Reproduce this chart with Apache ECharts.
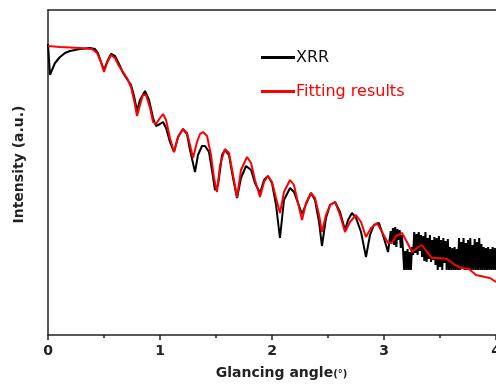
<!DOCTYPE html>
<html>
<head>
<meta charset="utf-8">
<script src="https://cdn.jsdelivr.net/npm/echarts@6/dist/echarts.min.js"></script>
<style>
html,body{margin:0;padding:0;background:#fff;}
#chart{width:496px;height:385px;}
</style>
</head>
<body>
<div id="chart"></div>
<script>
// Glancing angle (deg) and log-intensity (arbitrary units)
const xrrAngle = [0,0.009,0.018,0.036,0.0625,0.107,0.152,0.196,0.286,0.375,0.42,0.446,0.473,0.5,0.527,0.5625,0.598,0.634,0.67,0.705,0.741,0.768,0.795,0.821,0.866,0.902,0.938,0.964,1.0,1.027,1.054,1.089,1.125,1.161,1.205,1.241,1.268,1.3125,1.339,1.375,1.402,1.4375,1.464,1.491,1.518,1.554,1.58,1.616,1.652,1.688,1.723,1.768,1.813,1.848,1.893,1.929,1.964,2.0,2.036,2.071,2.107,2.161,2.196,2.232,2.268,2.304,2.348,2.384,2.42,2.446,2.482,2.518,2.563,2.607,2.652,2.679,2.714,2.75,2.795,2.839,2.875,2.911,2.955,2.991,3.036,
3.05,3.06,3.07,3.08,3.09,3.10,3.11,3.12,3.13,3.14,3.15,3.16,3.17,3.18,3.19,3.20,3.21,3.22,3.23,3.24,3.25,3.26,3.27,3.28,3.29,3.30,3.31,3.32,3.33,3.34,3.35,3.36,3.37,3.38,3.39,3.40,3.41,3.42,3.43,3.44,3.45,3.46,3.47,3.48,3.49,3.50,3.51,3.52,3.53,3.54,3.55,3.56,3.57,3.58,3.59,3.60,3.61,3.62,3.63,3.64,3.65,3.66,3.67,3.68,3.69,3.70,3.71,3.72,3.73,3.74,3.75,3.76,3.77,3.78,3.79,3.80,3.81,3.82,3.83,3.84,3.85,3.86,3.87,3.88,3.89,3.90,3.91,3.92,3.93,3.94,3.95,3.96,3.97,3.98,3.99,4.00];
const xrrIntensity = [291,275,260,265,272,278,282,284,286,287,286,282,273,265,273,281,279,271,262,256,250,239,224,235,244,235,217,209,211,213,207,193,183,198,206,201,185,163,180,189,189,183,165,145,150,180,185,180,157,137,157,169,165,152,142,155,159,152,130,97,135,147,143,132,121,131,142,135,113,89,117,130,133,123,105,115,122,117,103,78,100,110,112,100,83,
95,104,92,107,90,108,88,106,95,105,87,100,85,65,84,65,86,65,83,65,88,80,103,82,101,80,103,84,100,78,99,74,103,73,97,76,100,73,95,75,98,70,97,65,99,68,95,65,97,72,94,65,96,65,88,65,87,65,88,65,86,65,97,65,93,66,97,65,92,65,95,65,97,65,90,65,96,65,93,65,97,65,91,65,88,65,87,65,88,65,86,65,88,65,87,65];
const fitAngle = [0,0.107,0.286,0.393,0.438,0.473,0.5,0.527,0.5625,0.598,0.634,0.67,0.705,0.741,0.768,0.795,0.821,0.848,0.875,0.911,0.938,0.964,1.0,1.027,1.054,1.089,1.125,1.161,1.205,1.241,1.268,1.295,1.33,1.357,1.384,1.42,1.455,1.482,1.509,1.536,1.58,1.616,1.652,1.688,1.723,1.777,1.813,1.848,1.893,1.929,1.964,2.0,2.036,2.071,2.107,2.161,2.196,2.232,2.268,2.304,2.348,2.384,2.42,2.446,2.482,2.518,2.563,2.607,2.652,2.696,2.75,2.795,2.839,2.884,2.938,2.982,3.036,3.071,3.107,3.161,3.205,3.25,3.295,3.339,3.384,3.429,3.5,3.5625,3.634,3.696,3.759,3.821,3.902,3.946,4.0];
const fitIntensity = [289,288,287,286,282,273,263,272,280,277,269,263,257,248,235,219,230,240,240,227,213,211,217,221,215,197,183,198,206,202,190,177,193,201,203,199,180,157,143,170,186,182,160,138,165,178,172,155,138,153,159,153,137,122,143,155,150,132,115,132,142,137,120,103,120,130,133,120,103,113,120,113,98,107,112,103,92,92,99,102,93,83,87,90,83,77,77,76,70,67,66,60,58,57,53];
const xTicks = [0,1,2,3,4];

function pairs(xs, ys){ return xs.map((x,i)=>[x, ys[i]]); }

const chart = echarts.init(document.getElementById('chart'), null, {renderer:'canvas'});
const font = '"DejaVu Sans", sans-serif';
chart.setOption({
  animation:false,
  backgroundColor:'#fff',
  grid:{left:48, right:0, top:10, bottom:50, containLabel:false, outerBoundsMode:'none'},
  legend:{
    orient:'vertical', left:256, top:43, itemWidth:34, itemHeight:3, itemGap:15,
    icon:'rect',
    textStyle:{fontFamily:font, fontSize:16, lineHeight:19, padding:[0,0,0,-4]},
    data:[
      {name:'XRR', textStyle:{color:'#111'}},
      {name:'Fitting results', textStyle:{color:'#ff0000'}}
    ]
  },
  xAxis:[{
    type:'value', min:0, max:4, interval:1,
    name:'Glancing angle{s|(°)}', nameLocation:'middle', nameGap:31,
    nameTextStyle:{fontFamily:font, fontWeight:'bold', fontSize:14, color:'#222', padding:[0,0,0,19],
      rich:{s:{fontFamily:font, fontSize:10, color:'#222', padding:[3,0,0,0]}}},
    axisLine:{show:true, onZero:false, lineStyle:{color:'#222', width:1.5}},
    axisTick:{show:true, inside:false, length:5, lineStyle:{color:'#222', width:1.5}},
    minorTick:{show:true, splitNumber:2, length:3, lineStyle:{color:'#222', width:1.5}},
    axisLabel:{fontFamily:font, fontWeight:'bold', fontSize:14, color:'#222', margin:9,
      showMaxLabel:true, hideOverlap:false,
      formatter:(v)=> xTicks.includes(v) ? String(v) : ''},
    splitLine:{show:false}
  },{
    type:'value', position:'top', min:0, max:4,
    axisLine:{show:true, onZero:false, lineStyle:{color:'#222', width:1.5}},
    axisTick:{show:false}, axisLabel:{show:false}, splitLine:{show:false}
  }],
  yAxis:{
    type:'value', min:0, max:325,
    name:'Intensity (a.u.)', nameLocation:'middle', nameGap:22,
    nameTextStyle:{fontFamily:font, fontWeight:'bold', fontSize:14, color:'#222', padding:[0,0,0,16]},
    axisLine:{show:true, onZero:false, lineStyle:{color:'#222', width:1.5}},
    axisTick:{show:false}, axisLabel:{show:false}, splitLine:{show:false}
  },
  series:[
    {name:'XRR', type:'line', data:pairs(xrrAngle, xrrIntensity), showSymbol:false, symbol:'none',
      itemStyle:{color:'#000'}, lineStyle:{color:'#000', width:2}, clip:true},
    {name:'Fitting results', type:'line', data:pairs(fitAngle, fitIntensity), showSymbol:false, symbol:'none',
      itemStyle:{color:'#ff0000'}, lineStyle:{color:'#ff0000', width:2}, clip:true}
  ]
});
</script>
</body>
</html>
